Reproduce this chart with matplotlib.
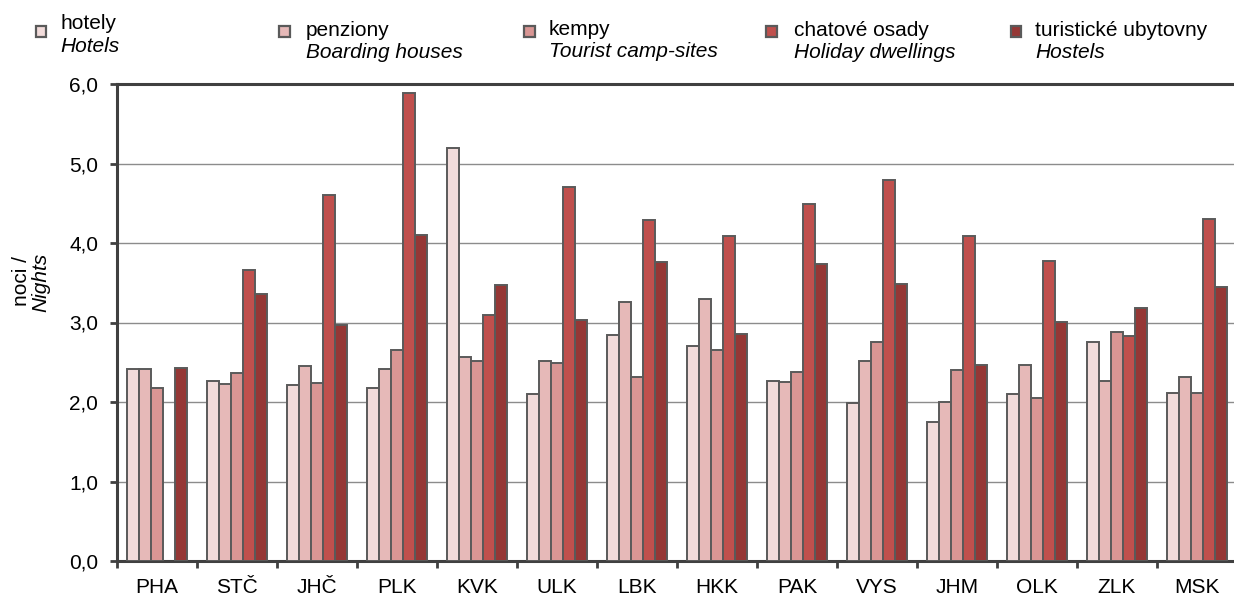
import matplotlib
matplotlib.use("Agg")
import matplotlib.pyplot as plt
import numpy as np
from matplotlib.patches import Rectangle
from matplotlib.ticker import FixedLocator, FuncFormatter

plt.rcParams['font.family'] = ['Liberation Sans', 'DejaVu Sans']

regions = ["PHA", "STČ", "JHČ", "PLK", "KVK", "ULK", "LBK", "HKK", "PAK", "VYS", "JHM", "OLK", "ZLK", "MSK"]
hotels = [2.41, 2.26, 2.22, 2.17, 5.20, 2.10, 2.84, 2.70, 2.26, 1.99, 1.75, 2.10, 2.76, 2.11]
boarding = [2.42, 2.23, 2.45, 2.41, 2.57, 2.52, 3.26, 3.30, 2.25, 2.51, 2.00, 2.46, 2.26, 2.32]
camps = [2.18, 2.36, 2.24, 2.65, 2.52, 2.49, 2.31, 2.65, 2.38, 2.76, 2.40, 2.05, 2.88, 2.11]
dwellings = [0.0, 3.66, 4.60, 5.89, 3.09, 4.71, 4.29, 4.09, 4.49, 4.79, 4.09, 3.77, 2.83, 4.30]
hostels = [2.43, 3.36, 2.97, 4.10, 3.47, 3.03, 3.76, 2.85, 3.74, 3.48, 2.46, 3.01, 3.18, 3.45]

series = [hotels, boarding, camps, dwellings, hostels]
labels_cz = ["hotely", "penziony", "kempy", "chatové osady", "turistické ubytovny"]
labels_en = ["Hotels", "Boarding houses", "Tourist camp-sites", "Holiday dwellings", "Hostels"]
colors = ["#F2DCDB", "#E6B9B8", "#D99694", "#C0504D", "#953735"]
yticks = [0, 1, 2, 3, 4, 5, 6]

W, H = 1234, 597
fig = plt.figure(figsize=(W / 100, H / 100), dpi=100)
ax = fig.add_axes([117 / W, 1 - 561 / H, (1237 - 117) / W, (561 - 84) / H])

x = np.arange(len(regions))
bw = 0.15
edge = "#5a5a5a"
for i, (vals, c) in enumerate(zip(series, colors)):
    vals = np.array(vals)
    mask = vals > 0
    ax.bar(x[mask] + (i - 2) * bw, vals[mask], width=bw, color=c, edgecolor=edge,
           linewidth=1.4, zorder=3)

ax.set_xlim(-0.5, len(regions) - 0.5)
ax.set_ylim(0, 6)
ax.yaxis.set_major_locator(FixedLocator(yticks))
ax.yaxis.set_major_formatter(FuncFormatter(lambda v, p: f"{v:.1f}".replace(".", ",")))
ax.grid(axis='y', color="#8c8c8c", linewidth=1.0, zorder=0)
ax.set_axisbelow(True)

ax.xaxis.set_major_locator(FixedLocator(np.arange(-0.5, len(regions), 1.0)))
ax.xaxis.set_minor_locator(FixedLocator(x))
ax.set_xticklabels([])
ax.set_xticklabels(regions, minor=True)
ax.tick_params(axis='x', which='major', length=5, width=2, color="#404040", direction='out')
ax.tick_params(axis='x', which='minor', length=0, labelsize=15, pad=12.5)
ax.tick_params(axis='y', length=5, width=2, color="#404040", labelsize=15, pad=8.5)

for s in ['left', 'bottom', 'top']:
    ax.spines[s].set_color("#404040")
    ax.spines[s].set_linewidth(2.2)
ax.spines['right'].set_visible(False)

# y label (two lines, second italic)
fig.text(27 / W, 1 - 281 / H, "noci /", rotation=90, rotation_mode='anchor',
         ha='center', va='baseline', fontsize=15)
fig.text(46 / W, 1 - 282 / H, "Nights", rotation=90, rotation_mode='anchor',
         ha='center', va='baseline', fontsize=15, style='italic')

# legend
mk_x = [35.5, 279, 524, 766, 1011]
tx_x = [60, 306, 549, 794, 1035]
base1 = [29, 36, 35, 36, 36]
base2 = [52, 58, 57, 58, 58]
for i in range(5):
    fig.add_artist(Rectangle((mk_x[i] / W, 1 - 37 / H), 10.5 / W, 10.5 / H, transform=fig.transFigure,
                             facecolor=colors[i], edgecolor="#5a5a5a", linewidth=1.6))
    fig.text(tx_x[i] / W, 1 - base1[i] / H, labels_cz[i], fontsize=15, va='baseline', ha='left')
    fig.text(tx_x[i] / W, 1 - base2[i] / H, labels_en[i], fontsize=15, va='baseline', ha='left', style='italic')

fig.savefig("out.png", dpi=100)
